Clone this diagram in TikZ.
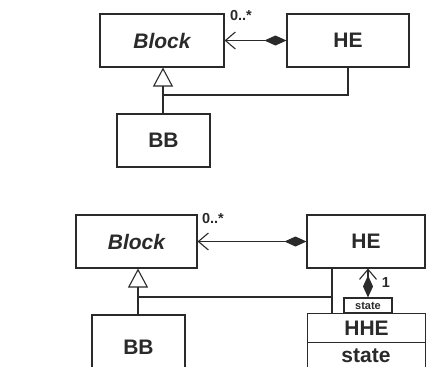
\documentclass[tikz,border=0pt]{standalone}
\usepackage{fontspec}
\setmainfont{Liberation Sans}
\usetikzlibrary{arrows.meta}
\definecolor{ink}{HTML}{2A2A2A}
\begin{document}
\begin{tikzpicture}[x=1pt,y=-1pt,
  box/.style={draw=ink,line width=1.1pt,inner sep=0pt,text=ink,font=\fontsize{21}{21}\selectfont\bfseries},
  mult/.style={text=ink,inner sep=0pt,font=\fontsize{14.5}{14.5}\selectfont\bfseries},
  conn/.style={draw=ink,line width=1.1pt},
  assoc/.style={conn,{Straight Barb[length=10pt,width=17pt,line width=1.1pt]}-{Diamond[length=22pt,width=10pt]}},
  gen/.style={conn,-{Triangle[open,length=19pt,width=20pt,line width=1.1pt]}}]
\useasboundingbox (0,0) rectangle (426,367);
\clip (0,0) rectangle (426,367);
\fill[white] (0,0) rectangle (426,367);
% ---- top diagram ----
\node[box,minimum width=124pt,minimum height=53pt] (blockA) at (162,40.5) {\itshape Block};
\node[box,minimum width=122pt,minimum height=53pt] (heA) at (348,40.5) {HE};
\node[box,minimum width=93pt,minimum height=53pt] (bbA) at (163.5,140.5) {BB};
\draw[assoc] (blockA.east) -- (heA.west);
\node[mult] (mA) at (241,16) {0..*};
\coordinate (jA) at (163,95);
\draw[gen] (jA |- bbA.north) -- (jA |- blockA.south);
\draw[conn] (heA.south) |- (jA);
% ---- bottom diagram ----
\node[box,minimum width=121pt,minimum height=53pt] (blockB) at (136.5,241.5) {\itshape Block};
\node[box,minimum width=118pt,minimum height=53pt] (heB) at (366,241.5) {HE};
\node[box,minimum width=93pt,minimum height=75pt] (bbB) at (138.5,352.5) {};
\node[box,draw=none] (bbBt) at (138.5,347.5) {BB};
\draw[assoc] (blockB.east) -- (heB.west);
\node[mult] (mB) at (213,219) {0..*};
\coordinate (jB) at (138,297);
\draw[gen] (jB |- bbB.north) -- (jB |- blockB.south);
\node[box,minimum width=48pt,minimum height=15pt,font=\fontsize{11}{11}\selectfont\bfseries] (qual) at (368,305.5) {state};
\node[box,minimum width=118pt,minimum height=29pt,anchor=north west] (hhe) at (307,313) {HHE};
\node[box,minimum width=118pt,minimum height=48pt,anchor=north west] (hhes) at (307,342) {};
\node[box,draw=none] (hhest) at (366,355.5) {state};
\coordinate (vB) at (332,297);
\draw[conn] (vB |- heB.south) -- (vB |- hhe.north);
\draw[conn,line width=2.6pt] (jB) -- (vB);
\draw[assoc] (qual.north |- heB.south) -- (qual.north);
\node[mult] (one) at (386,283) {1};
\end{tikzpicture}
\end{document}
